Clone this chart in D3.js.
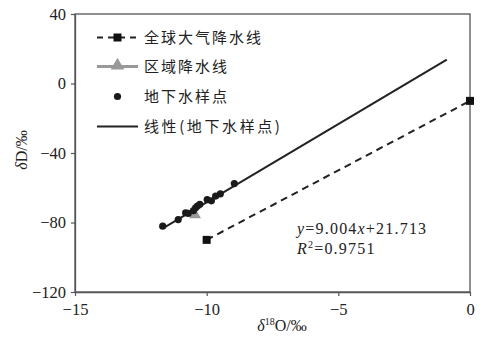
<!DOCTYPE html>
<html><head><meta charset="utf-8">
<script src="https://cdn.jsdelivr.net/npm/d3@7"></script>
<style>body{margin:0;background:#fff}svg{display:block}</style>
</head><body><svg id="c" width="488" height="337"></svg>
<script>
const xTicks = [-15, -10, -5, 0];
const yTicks = [-120, -80, -40, 0, 40];
const gmwlX = [-10, 0];
const gmwlY = [-90, -10];
const regionalX = [-10.44];
const regionalY = [-75.6];
const gwX = [-11.67, -11.08, -10.80, -10.70, -10.50, -10.42, -10.35, -10.26, -9.98, -9.82, -9.66, -9.48, -8.95];
const gwY = [-82.1, -78.3, -74.4, -74.8, -73.2, -71.5, -70.5, -69.5, -66.8, -67.5, -64.8, -63.5, -57.6];
const fitX = [-11.65, -0.88];
const fitY = [-83.2, 13.8];
const legendLabels = ["全球大气降水线", "区域降水线", "地下水样点", "线性(地下水样点)"];

const svg = d3.select("#c");
const L = 75, R = 470, T = 14, B = 292;
const x = d3.scaleLinear().domain([-15, 0]).range([L, R]);
const y = d3.scaleLinear().domain([-120, 40]).range([B, T]);
const serif = "'Liberation Serif','Times New Roman',serif";
const cjk = "'Noto Sans CJK SC','Noto Sans',sans-serif";
const axisCol = "#555";

// frame
svg.append("rect").attr("x", L).attr("y", T).attr("width", R - L).attr("height", B - T)
  .attr("fill", "none").attr("stroke", axisCol).attr("stroke-width", 1.3);

const xa = svg.append("g").attr("transform", `translate(0,${B})`)
  .call(d3.axisBottom(x).tickValues(xTicks).tickSize(4).tickSizeOuter(0).tickFormat(d => d < 0 ? "−" + Math.abs(d) : d));
const ya = svg.append("g").attr("transform", `translate(${L},0)`)
  .call(d3.axisLeft(y).tickValues(yTicks).tickSize(4).tickSizeOuter(0).tickFormat(d => d < 0 ? "−" + Math.abs(d) : d));
[xa, ya].forEach(a => {
  a.select(".domain").attr("stroke", axisCol).attr("stroke-width", 1.3);
  a.selectAll(".tick line").attr("stroke", axisCol).attr("stroke-width", 1.2);
  a.selectAll("text").attr("font-family", serif).attr("font-size", 16.5).attr("fill", "#222");
});
xa.selectAll("text").attr("dy", "0.95em");
ya.selectAll("text").attr("dx", "-2");

// axis titles
const xt = svg.append("text").attr("x", 282).attr("y", 331).attr("text-anchor", "middle")
  .attr("font-family", serif).attr("font-size", 16).attr("fill", "#222");
xt.append("tspan").attr("font-style", "italic").text("δ");
xt.append("tspan").attr("font-size", 10).attr("dy", -6).text("18");
xt.append("tspan").attr("dy", 6).text("O/‰");
const yt = svg.append("text").attr("transform", "translate(27,150) rotate(-90)").attr("text-anchor", "middle")
  .attr("font-family", serif).attr("font-size", 16).attr("fill", "#222");
yt.append("tspan").attr("font-style", "italic").text("δ");
yt.append("tspan").text("D/‰");

// lines
const line = d3.line().x(d => x(d[0])).y(d => y(d[1]));
svg.append("path").attr("d", line(gmwlX.map((v, i) => [v, gmwlY[i]])))
  .attr("fill", "none").attr("stroke", "#222").attr("stroke-width", 2).attr("stroke-dasharray", "7,5");
svg.selectAll(".gsq").data(gmwlX.map((v, i) => [v, gmwlY[i]])).join("rect")
  .attr("x", d => x(d[0]) - 4).attr("y", d => y(d[1]) - 4).attr("width", 8).attr("height", 8).attr("fill", "#111");
svg.append("path").attr("d", line(fitX.map((v, i) => [v, fitY[i]])))
  .attr("fill", "none").attr("stroke", "#222").attr("stroke-width", 2);

const tri = d3.symbol().type(d3.symbolTriangle).size(60);
svg.selectAll(".rtri").data(regionalX.map((v, i) => [v, regionalY[i]])).join("path")
  .attr("d", tri).attr("transform", d => `translate(${x(d[0])},${y(d[1])})`).attr("fill", "#999");
svg.selectAll(".gw").data(gwX.map((v, i) => [v, gwY[i]])).join("circle")
  .attr("cx", d => x(d[0])).attr("cy", d => y(d[1])).attr("r", 3.6).attr("fill", "#1a1a1a");

// legend
const ly = [37.5, 66.5, 96.5, 126.5];
const lx0 = 97, lx1 = 138, lxm = 117.5;
const lg = svg.append("g");
lg.append("line").attr("x1", lx0).attr("x2", lx1).attr("y1", ly[0]).attr("y2", ly[0])
  .attr("stroke", "#222").attr("stroke-width", 2).attr("stroke-dasharray", "6,5");
lg.append("rect").attr("x", lxm - 4).attr("y", ly[0] - 4).attr("width", 8).attr("height", 8).attr("fill", "#111");
lg.append("line").attr("x1", lx0).attr("x2", lx1).attr("y1", ly[1]).attr("y2", ly[1])
  .attr("stroke", "#999").attr("stroke-width", 3);
lg.append("path").attr("d", d3.symbol().type(d3.symbolTriangle).size(80)).attr("transform", `translate(${lxm},${ly[1] - 1})`).attr("fill", "#999");
lg.append("circle").attr("cx", lxm).attr("cy", ly[2]).attr("r", 3.6).attr("fill", "#1a1a1a");
lg.append("line").attr("x1", lx0).attr("x2", lx1).attr("y1", ly[3]).attr("y2", ly[3])
  .attr("stroke", "#222").attr("stroke-width", 2);
lg.selectAll(".lt").data(legendLabels).join("text")
  .attr("x", 144).attr("y", (d, i) => ly[i] + 5.5)
  .attr("font-family", cjk).attr("font-size", 15).attr("letter-spacing", (d, i) => i === 3 ? 2.6 : 2).attr("fill", "#222")
  .text(d => d);

// equation
const e1 = svg.append("text").attr("x", 297).attr("y", 234).attr("font-family", serif).attr("font-size", 16).attr("fill", "#222").attr("letter-spacing", 1.2);
e1.append("tspan").attr("font-style", "italic").text("y");
e1.append("tspan").text("=9.004");
e1.append("tspan").attr("font-style", "italic").text("x");
e1.append("tspan").text("+21.713");
const e2 = svg.append("text").attr("x", 297).attr("y", 254).attr("font-family", serif).attr("font-size", 16).attr("fill", "#222").attr("letter-spacing", 1.2);
e2.append("tspan").attr("font-style", "italic").text("R");
e2.append("tspan").attr("font-size", 10).attr("dy", -6).text("2");
e2.append("tspan").attr("dy", 6).text("=0.9751");
</script></body></html>
